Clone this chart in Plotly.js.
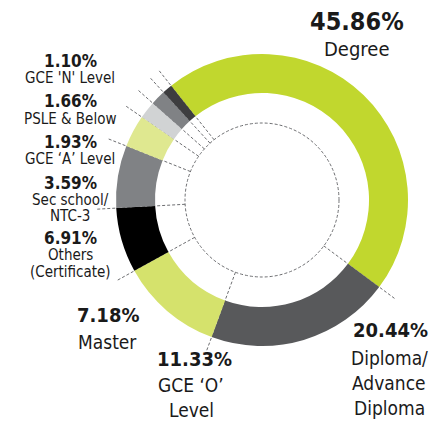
<!DOCTYPE html>
<html>
<head>
<meta charset="utf-8">
<script src="https://cdn.plot.ly/plotly-3.0.1.min.js"></script>
<style>
  html, body { margin: 0; padding: 0; background: #ffffff; }
  #chart { width: 437px; height: 421px; }
</style>
</head>
<body>
<div id="chart"></div>
<script>
// Daten: Anteile nach Bildungsabschluss (im Uhrzeigersinn ab "Degree")
const categories = ["Degree", "Diploma/Advance Diploma", "GCE 'O' Level", "Master",
    "Others (Certificate)", "Sec school/NTC-3", "GCE 'A' Level", "PSLE & Below", "GCE 'N' Level"];
const shares = [45.86, 20.44, 11.33, 7.18, 6.91, 3.59, 1.93, 1.66, 1.10];
const shareLabels = ["45.86%", "20.44%", "11.33%", "7.18%", "6.91%", "3.59%", "1.93%", "1.66%", "1.10%"];
const nameLabels = ["Degree", "Diploma/<br>Advance<br>Diploma", "GCE \u2018O\u2019<br>Level", "Master",
    "Others<br>(Certificate)", "Sec school/<br>NTC-3", "GCE \u2018A\u2019 Level", "PSLE & Below", "GCE 'N' Level"];
const sliceColors = ["#c1d72e", "#58595b", "#d5e26c", "#000000", "#808285",
    "#dfe890", "#d1d3d4", "#808285", "#3d3d3f"];

// Geometrie (Pixel)
const W = 437, H = 421;
const CX = 262, CY = 200;      // Mittelpunkt des Rings
const R_OUT = 146;             // Außenradius
const HOLE = 0.733;            // Loch im Ring
const R_DASH = 77;             // gestrichelter Innenkreis
const R_LEAD = 165;            // Ende der Führungslinien
const ROTATION = -38.5;        // Start von "Degree" (Grad, ab 12 Uhr)

// Label-Positionen (Pixel): [pctX, pctY, nameX, erste Zeile Y, Zeilenabstand, pctSize, nameSize]
const labelSpots = [
    [357, 22, 356, 49, 0, 25, 20],
    [390, 330, 389, 358, 25, 20, 19],
    [194, 359, 191, 385, 25, 20, 19],
    [108, 315, 107, 342, 0, 20, 19],
    [70, 238, 70, 255, 17, 17, 15],
    [70, 183, 70, 200, 16, 17, 15],
    [70, 142, 70, 159, 0, 17, 15],
    [70, 101, 70, 119, 0, 17, 15],
    [70, 61, 70, 78, 0, 17, 15],
];

const FONT = "'DejaVu Sans Condensed', 'Liberation Sans Narrow', sans-serif";
const TEXT_COLOR = "#1a1a1a";

const px = (x) => x / W;
const py = (y) => 1 - y / H;

const pieTrace = {
    type: "pie",
    labels: categories,
    values: shares,
    sort: false,
    direction: "clockwise",
    rotation: ROTATION,
    hole: HOLE,
    textinfo: "none",
    hoverinfo: "label+percent",
    marker: { colors: sliceColors, line: { width: 0 } },
    domain: {
        x: [px(CX - R_OUT), px(CX + R_OUT)],
        y: [py(CY + R_OUT), py(CY - R_OUT)],
    },
    showlegend: false,
};

// Führungslinien an den Segmentgrenzen
const total = shares.reduce((a, b) => a + b, 0);
const shapes = [];
let cum = 0;
shares.forEach((v) => {
    const a = (ROTATION + (cum / total) * 360) * Math.PI / 180;
    shapes.push({
        type: "line", xref: "paper", yref: "paper", layer: "below",
        x0: px(CX + R_DASH * Math.sin(a)), y0: py(CY - R_DASH * Math.cos(a)),
        x1: px(CX + R_LEAD * Math.sin(a)), y1: py(CY - R_LEAD * Math.cos(a)),
        line: { color: "#6d6e71", width: 1, dash: "3px,2px" },
    });
    cum += v;
});

// gestrichelter Innenkreis
shapes.push({
    type: "circle", xref: "paper", yref: "paper", layer: "below",
    x0: px(CX - R_DASH), x1: px(CX + R_DASH),
    y0: py(CY + R_DASH), y1: py(CY - R_DASH),
    line: { color: "#6d6e71", width: 1, dash: "3px,2px" },
});

const annotations = [];
categories.forEach((c, i) => {
    const s = labelSpots[i];
    annotations.push({
        xref: "paper", yref: "paper", x: px(s[0]), y: py(s[1]),
        xanchor: "center", yanchor: "middle", showarrow: false, borderpad: 0,
        text: "<b>" + shareLabels[i] + "</b>",
        font: { family: FONT, size: s[5], color: TEXT_COLOR },
    });
    // jede Zeile einzeln, damit der Zeilenabstand eng bleibt
    nameLabels[i].split("<br>").forEach((line, k) => {
        annotations.push({
            xref: "paper", yref: "paper", x: px(s[2]), y: py(s[3] + k * s[4]),
            xanchor: "center", yanchor: "middle", showarrow: false, borderpad: 0,
            text: line,
            font: { family: FONT, size: s[6], color: TEXT_COLOR },
        });
    });
});

const layout = {
    width: W,
    height: H,
    margin: { l: 0, r: 0, t: 0, b: 0 },
    paper_bgcolor: "#ffffff",
    plot_bgcolor: "#ffffff",
    shapes: shapes,
    annotations: annotations,
    showlegend: false,
};

Plotly.newPlot("chart", [pieTrace], layout, { displayModeBar: false, staticPlot: true });
</script>
</body>
</html>
